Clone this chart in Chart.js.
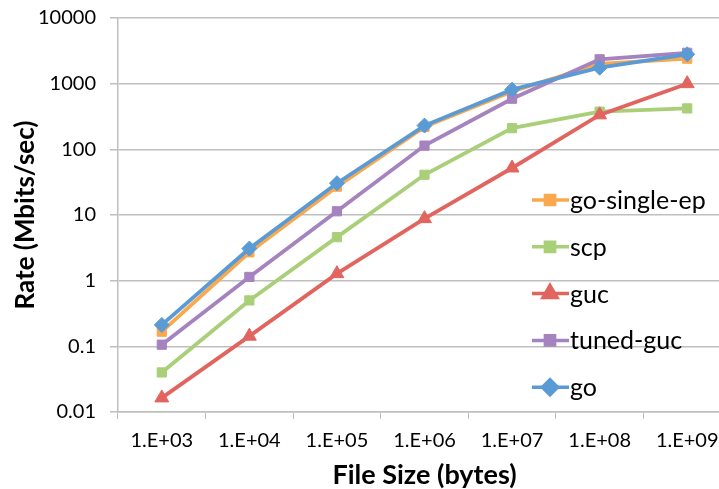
<!DOCTYPE html>
<html>
<head>
<meta charset="utf-8">
<script src="https://cdn.jsdelivr.net/npm/chart.js@4.4.0/dist/chart.umd.min.js"></script>
<style>
    html, body { margin: 0; padding: 0; background: #fff; overflow: hidden; }
    #wrap { position: relative; width: 740px; height: 489px; }
</style>
</head>
<body>
<div id="wrap"><canvas id="grafico"></canvas></div>
<script>
// Dados do gráfico
const tamanhos = ["1.E+03", "1.E+04", "1.E+05", "1.E+06", "1.E+07", "1.E+08", "1.E+09"];
const goSingleEp = [0.167, 2.7, 27, 220, 760, 2000, 2400];
const scp = [0.040, 0.50, 4.6, 41, 210, 375, 420];
const guc = [0.0164, 0.143, 1.28, 8.8, 52, 335, 1000];
const tunedGuc = [0.106, 1.14, 11.4, 114, 590, 2350, 2950];
const go = [0.212, 3.08, 30.5, 230, 810, 1750, 2800];
const ticksY = [0.01, 0.1, 1, 10, 100, 1000, 10000];

const fonte = "Lato, 'Open Sans', sans-serif";
const cinza = "#bfbfbf";

// Legenda desenhada dentro da área do gráfico
const legendaPlugin = {
    id: "legendaInterna",
    afterDraw(chart) {
        const ctx = chart.ctx;
        const itens = chart.data.datasets.slice().sort((a, b) => a.legendaPos - b.legendaPos);
        let y = 200;
        itens.forEach(ds => {
            ctx.save();
            ctx.strokeStyle = ds.borderColor;
            ctx.lineWidth = 3.5;
            ctx.beginPath();
            ctx.moveTo(532, y);
            ctx.lineTo(569, y);
            ctx.stroke();
            Chart.helpers.drawPoint(ctx, {
                pointStyle: ds.pointStyle,
                radius: ds.pointRadius,
                rotation: 0,
                borderWidth: 1
            }, 550, y);
            ctx.fillStyle = ds.borderColor;
            ctx.fill();
            ctx.fillStyle = "#000";
            ctx.font = "25px " + fonte;
            ctx.textBaseline = "middle";
            ctx.textAlign = "left";
            ctx.fillText(ds.label, 570, y + 1);
            ctx.restore();
            y += 46.8;
        });
    }
};

function serie(label, data, cor, estilo, raio, ordem, pos) {
    return {
        label: label,
        data: data,
        borderColor: cor,
        backgroundColor: cor,
        borderWidth: 3.8,
        pointStyle: estilo,
        pointRadius: raio,
        pointHoverRadius: raio,
        pointBorderWidth: 1,
        tension: 0,
        order: ordem,
        legendaPos: pos
    };
}

const ctx = document.getElementById("grafico");

new Chart(ctx, {
    type: "line",
    data: {
        labels: tamanhos,
        datasets: [
            serie("go-single-ep", goSingleEp, "#f9a84e", "rect", 6.5, 2, 0),
            serie("scp", scp, "#a9cf78", "rect", 6.5, 4, 1),
            serie("guc", guc, "#e2645f", "triangle", 8, 3, 2),
            serie("tuned-guc", tunedGuc, "#a583bf", "rect", 6.5, 1, 3),
            serie("go", go, "#5b9bd5", "rectRot", 7.5, 0, 4)
        ]
    },
    options: {
        responsive: true,
        maintainAspectRatio: false,
        animation: false,
        layout: { padding: { top: 18, right: 6, left: 0, bottom: 0 } },
        plugins: {
            legend: { display: false },
            tooltip: { enabled: false }
        },
        scales: {
            x: {
                type: "category",
                offset: true,
                grid: {
                    offset: true,
                    drawOnChartArea: false,
                    drawTicks: true,
                    tickLength: 7,
                    color: cinza
                },
                border: { color: cinza, width: 1.5 },
                ticks: {
                    color: "#000",
                    font: { family: fonte, size: 20 },
                    padding: 10,
                    maxRotation: 0
                },
                title: {
                    display: true,
                    text: "File Size (bytes)",
                    color: "#000",
                    font: { family: fonte, size: 27, weight: "bold", lineHeight: 1.0 },
                    padding: { top: 0, bottom: 0 }
                },
                afterFit(scale) { scale.height = 77; }
            },
            y: {
                type: "logarithmic",
                min: 0.01,
                max: 10000,
                afterBuildTicks(scale) {
                    scale.ticks = ticksY.map(v => ({ value: v }));
                },
                grid: {
                    color: cinza,
                    lineWidth: 1.5,
                    tickLength: 8
                },
                border: { color: cinza, width: 1.5 },
                ticks: {
                    color: "#000",
                    font: { family: fonte, size: 20 },
                    padding: 14,
                    callback: v => String(v)
                },
                title: {
                    display: true,
                    text: "Rate (Mbits/sec)",
                    color: "#000",
                    font: { family: fonte, size: 26, weight: "bold" },
                    padding: { top: 10, bottom: 0 }
                },
                afterFit(scale) {
                    scale.width = 118;
                    scale.paddingTop = 0;
                    scale.paddingBottom = 0;
                }
            }
        }
    },
    plugins: [legendaPlugin]
});
</script>
</body>
</html>
